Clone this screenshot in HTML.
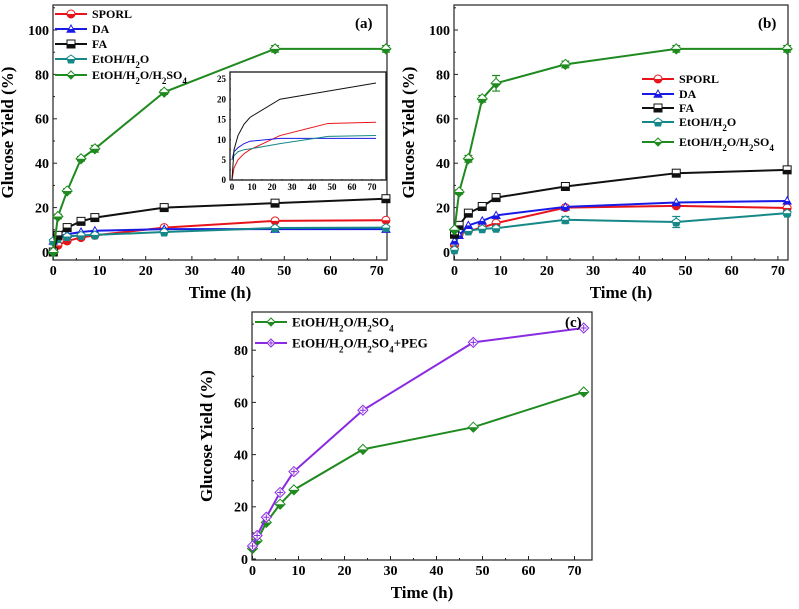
<!DOCTYPE html>
<html><head><meta charset="utf-8"><style>
body{margin:0;background:#fff}
svg{display:block;font-family:"Liberation Serif",serif;font-weight:bold}
</style></head><body>
<svg id="fig" width="799" height="609" viewBox="0 0 799 609" xmlns="http://www.w3.org/2000/svg"></svg>
<script>
const times = [0, 1, 3, 6, 9, 24, 48, 72];
const namesAB = ["SPORL", "DA", "FA", "EtOH/H2O", "EtOH/H2O/H2SO4"];
const aSPORL = [0, 3, 5, 6.5, 7.5, 11, 14, 14.3];
const aDA = [5, 7, 8, 9, 9.6, 10.3, 10.3, 10.3];
const aFA = [0, 7.5, 11, 13.8, 15.5, 20, 22, 24];
const aEtOH = [5, 6, 7, 7.5, 7.7, 9, 10.8, 11];
const aAcid = [0, 16, 27.5, 42, 46.5, 72, 91.5, 91.5];
const bSPORL = [3, 8, 9.5, 11, 13, 20, 20.8, 19.8];
const bDA = [5, 7.5, 12, 14, 16.5, 20.3, 22.3, 23];
const bFA = [8, 12, 17.5, 20.5, 24.5, 29.5, 35.5, 37];
const bEtOH = [1, 9, 9.5, 10.5, 10.7, 14.5, 13.5, 17.5];
const bAcid = [10, 27, 42, 69, 76, 84.5, 91.5, 91.5];
const bAcidErr = [0, 1, 1.5, 1.5, 3.5, 1.5, 1.5, 1.5];
const bEtOHErr = [0, 0, 0, 0, 1, 1.5, 2.5, 1];
const cAcid = [4, 7, 14, 21, 26.5, 42, 50.5, 64];
const cPEG = [5, 9, 16, 25.5, 33.5, 57, 83, 88.5];
const xTicks = [0, 10, 20, 30, 40, 50, 60, 70];
const yTicksAB = [0, 20, 40, 60, 80, 100];
const yTicksC = [0, 20, 40, 60, 80];
const yTicksInset = [0, 5, 10, 15, 20, 25];

const NS = "http://www.w3.org/2000/svg";
const fig = document.getElementById("fig");
function el(tag, attrs, parent, text) {
  const e = document.createElementNS(NS, tag);
  for (const k in attrs) e.setAttribute(k, attrs[k]);
  if (text !== undefined) e.textContent = text;
  (parent || fig).appendChild(e);
  return e;
}
const COL = {red:"#e8141b", blue:"#1a1ae6", black:"#111", teal:"#168888", green:"#1f8a1f", purple:"#8a2be2"};

function marker(g, shape, x, y, c, s) {
  const m = el("g", {transform:`translate(${x},${y})`}, g);
  
  
  const sw = 1;
  if (shape === "circle") {
    el("circle", {r:s, fill:"#fff", stroke:c, "stroke-width":sw}, m);
    el("path", {d:`M${-s},0 A${s},${s} 0 0,0 ${s},0 Z`, fill:c}, m);
  } else if (shape === "tri") {
    el("polygon", {points:`0,${-s} ${s},${s*0.8} ${-s},${s*0.8}`, fill:"#fff", stroke:c, "stroke-width":sw}, m);
    el("polygon", {points:`${-s*0.55},0 ${s*0.55},0 ${s},${s*0.8} ${-s},${s*0.8}`, fill:c}, m);
  } else if (shape === "square") {
    el("rect", {x:-s, y:-s, width:2*s, height:2*s, fill:"#fff", stroke:c, "stroke-width":sw}, m);
    el("rect", {x:-s, y:0, width:2*s, height:s, fill:c}, m);
  } else if (shape === "pent") {
    el("polygon", {points:`0,${-s} ${s},${-s*0.3} ${s*0.65},${s} ${-s*0.65},${s} ${-s},${-s*0.3}`, fill:"#fff", stroke:c, "stroke-width":sw}, m);
    el("polygon", {points:`${-s*0.9},0 ${s*0.9},0 ${s*0.65},${s} ${-s*0.65},${s}`, fill:c}, m);
  } else if (shape === "diamond") {
    el("polygon", {points:`0,${-s} ${s},0 0,${s} ${-s},0`, fill:"#fff", stroke:c, "stroke-width":sw}, m);
    el("polygon", {points:`${-s},0 ${s},0 0,${s}`, fill:c}, m);
  } else if (shape === "diamondOpen") {
    el("polygon", {points:`0,${-s} ${s},0 0,${s} ${-s},0`, fill:"#fff", stroke:c, "stroke-width":sw}, m);
    el("path", {d:`M${-s*0.6},0 H${s*0.6} M0,${-s*0.6} V${s*0.6}`, stroke:c, "stroke-width":1}, m);
  }
}

function panel(o) {
  const g = el("g", {});
  
  
  const X = v => o.x0 + (v - 0) * o.xs;
  const Y = v => o.y0 - v * o.ys;
  o.X = X; o.Y = Y;
  el("rect", {x:o.fl, y:o.ft, width:o.fr - o.fl, height:o.fb - o.ft, fill:"none", stroke:"#222", "stroke-width":1.2}, g);
  const fs = o.fs || 14;
  const ticks = el("g", {}, g);
  
  
  o.xt.forEach(v => {
    el("line", {x1:X(v), x2:X(v), y1:o.fb, y2:o.fb - 4, stroke:"#222"}, ticks);
    if (X(v+5) < o.fr) el("line", {x1:X(v+5), x2:X(v+5), y1:o.fb, y2:o.fb - 2, stroke:"#222"}, ticks);
    el("text", {x:X(v), y:o.fb + fs + 1, "font-size":fs, "text-anchor":"middle"}, ticks, v);
  });
  const yt = el("g", {}, g);
  
  
  o.yt.forEach((v, i) => {
    el("line", {x1:o.fl, x2:o.fl + 4, y1:Y(v), y2:Y(v), stroke:"#222"}, yt);
    const half = v + (o.yt[1] - o.yt[0]) / 2;
    if (Y(half) > o.ft) el("line", {x1:o.fl, x2:o.fl + 2, y1:Y(half), y2:Y(half), stroke:"#222"}, yt);
    el("text", {x:o.fl - 4, y:Y(v) + fs*0.35, "font-size":fs, "text-anchor":"end"}, yt, v);
  });
  if (o.xlabel) {
    const t = el("text", {x:(o.fl + o.fr) / 2, y:o.fb + 38, "font-size":17, "text-anchor":"middle"}, g, o.xlabel);
    
    const ty = el("text", {transform:`translate(${o.fl - 40},${(o.ft + o.fb) / 2}) rotate(-90)`, "font-size":17, "text-anchor":"middle"}, g, o.ylabel);
    
  }
  return g;
}

function series(o, g, vals, c, shape, s, name, err) {
  const sg = el("g", {}, g);
  
  
  const pts = vals.map((v, i) => `${o.X(times[i])},${o.Y(v)}`).join(" ");
  el("polyline", {points:pts, fill:"none", stroke:c, "stroke-width":o.lw || 2}, sg);
  if (err) vals.forEach((v, i) => {
    if (!err[i]) return;
    const x = o.X(times[i]), y1 = o.Y(v + err[i]), y2 = o.Y(v - err[i]);
    el("path", {d:`M${x},${y1} V${y2} M${x-4},${y1} H${x+4} M${x-4},${y2} H${x+4}`, stroke:c, "stroke-width":1.2, fill:"none"}, sg);
  });
  if (shape) vals.forEach((v, i) => marker(sg, shape, o.X(times[i]), o.Y(v), c, s));
}

function legend(items, x, ys, fs) {
  const g = el("g", {});
  
  
  items.forEach((it, i) => {
    const e = el("g", {}, g);
    
    
    el("line", {x1:x, x2:x + 32, y1:ys[i], y2:ys[i], stroke:it.c, "stroke-width":2}, e);
    marker(e, it.shape, x + 16, ys[i], it.c, 4);
    const t = el("text", {x:x + 37, y:ys[i] + fs*0.35, "font-size":fs}, e);
    t.innerHTML = it.label;
  });
}
const sub = s => `<tspan baseline-shift="sub" font-size="9">${s}</tspan>`;
const labAcid = `EtOH/H${sub(2)}O/H${sub(2)}SO${sub(4)}`;
const labEtOH = `EtOH/H${sub(2)}O`;

const pa = {name:"panel-a", fl:53, fr:387, ft:5, fb:260, x0:53.3, xs:4.62, y0:252, ys:2.22, xmax:75, xt:xTicks, yt:yTicksAB, xlabel:"Time (h)", ylabel:"Glucose Yield (%)"};
const ga = panel(pa);
series(pa, ga, aSPORL, COL.red, "circle", 4, "series-sporl-a");
series(pa, ga, aDA, COL.blue, "tri", 4, "series-da-a");
series(pa, ga, aEtOH, COL.teal, "pent", 4, "series-etoh-a");
series(pa, ga, aFA, COL.black, "square", 4, "series-fa-a");
series(pa, ga, aAcid, COL.green, "diamond", 5, "series-acid-a", [0,1,1,1,1.5,1,1.5,1.5]);
el("text", {x:355, y:28, "font-size":15}, ga, "(a)");
legend([{c:COL.red,shape:"circle",label:"SPORL"},{c:COL.blue,shape:"tri",label:"DA"},{c:COL.black,shape:"square",label:"FA"},{c:COL.teal,shape:"pent",label:labEtOH},{c:COL.green,shape:"diamond",label:labAcid}], 55, [14, 29, 44, 59, 75], 12);
const pi = {name:"inset-a", fl:230, fr:386, ft:72, fb:180, x0:232, xs:2.0, y0:180, ys:4.04, xmax:75, xt:xTicks, yt:yTicksInset, fs:9, lw:1};
const gi = panel(pi);
el("rect", {x:231, y:73, width:154, height:106, fill:"#fff"}, gi);
const gi2 = el("g", {}, gi);
series(pi, gi2, aSPORL, COL.red, null, 0, "inset-sporl");
series(pi, gi2, aDA, COL.blue, null, 0, "inset-da");
series(pi, gi2, aEtOH, COL.teal, null, 0, "inset-etoh");
series(pi, gi2, aFA, COL.black, null, 0, "inset-fa");
el("rect", {x:230, y:72, width:156, height:108, fill:"none", stroke:"#222", "stroke-width":1.2}, gi);

const pb = {name:"panel-b", fl:454, fr:788, ft:5, fb:260, x0:454.5, xs:4.62, y0:252, ys:2.22, xmax:75, xt:xTicks, yt:yTicksAB, xlabel:"Time (h)", ylabel:"Glucose Yield (%)"};
const gb = panel(pb);
series(pb, gb, bSPORL, COL.red, "circle", 4, "series-sporl-b");
series(pb, gb, bEtOH, COL.teal, "pent", 4, "series-etoh-b", bEtOHErr);
series(pb, gb, bDA, COL.blue, "tri", 4, "series-da-b");
series(pb, gb, bFA, COL.black, "square", 4, "series-fa-b");
series(pb, gb, bAcid, COL.green, "diamond", 5, "series-acid-b", bAcidErr);
el("text", {x:758, y:28, "font-size":15}, gb, "(b)");
legend([{c:COL.red,shape:"circle",label:"SPORL"},{c:COL.blue,shape:"tri",label:"DA"},{c:COL.black,shape:"square",label:"FA"},{c:COL.teal,shape:"pent",label:labEtOH},{c:COL.green,shape:"diamond",label:labAcid}], 642, [79, 94, 108, 122, 142], 12);

const pc = {name:"panel-c", fl:252, fr:592, ft:312, fb:560, x0:252.5, xs:4.6, y0:559, ys:2.61, xmax:75, xt:xTicks, yt:yTicksC, xlabel:"Time (h)", ylabel:"Glucose Yield (%)"};
const gc = panel(pc);
series(pc, gc, cAcid, COL.green, "diamond", 5, "series-acid-c");
series(pc, gc, cPEG, COL.purple, "diamondOpen", 5, "series-peg-c");
el("text", {x:565, y:327, "font-size":15}, gc, "(c)");
legend([{c:COL.green,shape:"diamond",label:labAcid},{c:COL.purple,shape:"diamondOpen",label:labAcid + "+PEG"}], 255, [322, 343], 13);
</script>
</body></html>
